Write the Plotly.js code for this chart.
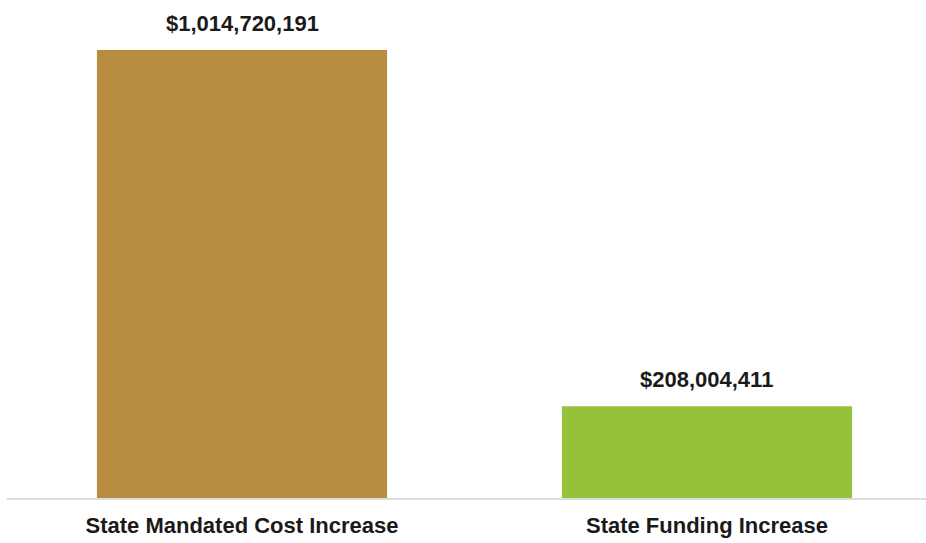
<!DOCTYPE html>
<html>
<head>
<meta charset="utf-8">
<script src="https://cdn.plot.ly/plotly-3.0.1.min.js"></script>
<style>html,body{margin:0;padding:0;background:#fff;}#chart{width:926px;height:543px;}</style>
</head>
<body>
<div id="chart"></div>
<script>
const categories = ["State Mandated Cost Increase", "State Funding Increase"];
const values = [1014720191, 208004411];
const valueLabels = ["$1,014,720,191", "$208,004,411"];
const barColors = ["#B88D40", "#96C13A"];

const trace = {
  type: "bar",
  x: categories,
  y: values,
  marker: {color: barColors, line: {width: 0}},
  hoverinfo: "skip"
};

const annotations = categories.map((c, i) => ({
  x: c, y: values[i], xref: "x", yref: "y",
  text: valueLabels[i], showarrow: false,
  yanchor: "bottom", yshift: 12,
  font: {family: "Liberation Sans, Arial, sans-serif", size: 22, color: "#1a1a1a", weight: "bold"}
}));

const layout = {
  width: 926, height: 543,
  margin: {l: 7, r: 0, t: 10, b: 45},
  paper_bgcolor: "#fff", plot_bgcolor: "#fff",
  showlegend: false,
  bargap: 0.376,
  xaxis: {
    type: "category",
    range: [-0.5054, 1.471],
    showline: true, linecolor: "#dcdcdc", linewidth: 2,
    showgrid: false, zeroline: false, ticks: "",
    ticklabelstandoff: 7,
    tickfont: {family: "Liberation Sans, Arial, sans-serif", size: 22, color: "#1a1a1a", weight: "bold"}
  },
  yaxis: {
    range: [0, 1105300000],
    visible: false, showgrid: false, zeroline: false
  },
  annotations: annotations
};

Plotly.newPlot("chart", [trace], layout, {staticPlot: true, displayModeBar: false});
</script>
</body>
</html>
